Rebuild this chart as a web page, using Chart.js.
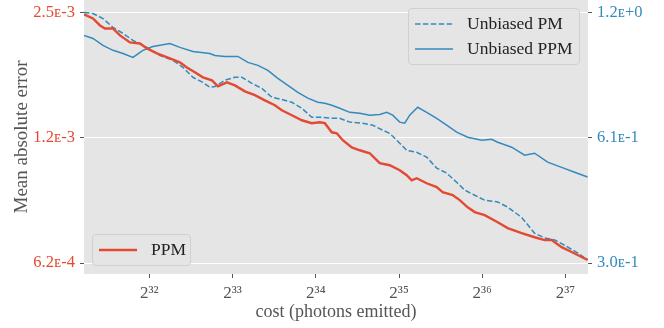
<!DOCTYPE html>
<html>
<head>
<meta charset="utf-8">
<script src="https://cdn.jsdelivr.net/npm/chart.js@4/dist/chart.umd.min.js"></script>
<style>
  body { margin: 0; background: #fff; }
  #wrap { position: relative; width: 664px; height: 328px; }
  .legend { position: absolute; box-sizing: border-box; background: rgba(229,229,229,0.92); border: 1px solid #d0d0d0; border-radius: 4px; font: 17.5px 'Liberation Serif', serif; color: #222; padding-top: 2px; }
  .legend .row { display: flex; align-items: center; height: 25px; }
  .legend svg { margin: 0 14px 0 6px; }
</style>
</head>
<body>
<div id="wrap">
  <canvas id="myChart" width="664" height="328"></canvas>
</div>
<script>
// x values are log2(cost)
const ppmX = [31.215, 31.323, 31.407, 31.467, 31.563, 31.647, 31.767, 31.887, 31.971, 32.091, 32.247, 32.367, 32.451, 32.547, 32.643, 32.752, 32.824, 32.932, 33.028, 33.148, 33.268, 33.388, 33.508, 33.592, 33.712, 33.832, 33.952, 34.048, 34.108, 34.192, 34.252, 34.324, 34.432, 34.528, 34.648, 34.768, 34.888, 35.008, 35.092, 35.152, 35.212, 35.332, 35.452, 35.524, 35.644, 35.729, 35.825, 35.909, 36.029, 36.185, 36.305, 36.473, 36.629, 36.749, 36.833, 36.953, 37.073, 37.193, 37.265]
const ppmErr = [2.453e-3, 2.399e-3, 2.308e-3, 2.270e-3, 2.270e-3, 2.184e-3, 2.101e-3, 2.089e-3, 2.033e-3, 1.977e-3, 1.923e-3, 1.882e-3, 1.830e-3, 1.781e-3, 1.732e-3, 1.704e-3, 1.648e-3, 1.685e-3, 1.657e-3, 1.603e-3, 1.569e-3, 1.525e-3, 1.484e-3, 1.443e-3, 1.404e-3, 1.366e-3, 1.344e-3, 1.351e-3, 1.344e-3, 1.278e-3, 1.271e-3, 1.223e-3, 1.176e-3, 1.157e-3, 1.138e-3, 1.077e-3, 1.065e-3, 1.036e-3, 1.008e-3, 0.980e-3, 0.991e-3, 0.964e-3, 0.944e-3, 0.918e-3, 0.903e-3, 0.878e-3, 0.844e-3, 0.822e-3, 0.808e-3, 0.777e-3, 0.752e-3, 0.732e-3, 0.715e-3, 0.704e-3, 0.704e-3, 0.677e-3, 0.659e-3, 0.641e-3, 0.631e-3]

const pmX = [31.215, 31.323, 31.443, 31.563, 31.683, 31.803, 31.971, 32.127, 32.283, 32.403, 32.523, 32.643, 32.727, 32.788, 32.908, 33.028, 33.112, 33.232, 33.352, 33.472, 33.592, 33.712, 33.832, 33.952, 34.072, 34.192, 34.288, 34.408, 34.564, 34.684, 34.804, 34.888, 35.008, 35.092, 35.212, 35.332, 35.452, 35.572, 35.692, 35.789, 35.909, 36.029, 36.185, 36.305, 36.473, 36.629, 36.749, 36.869, 36.989, 37.145, 37.265]
const pmErr = [1.218, 1.211, 1.178, 1.121, 1.085, 1.044, 1.004, 0.960, 0.935, 0.899, 0.851, 0.827, 0.805, 0.809, 0.837, 0.851, 0.851, 0.823, 0.800, 0.762, 0.753, 0.741, 0.717, 0.682, 0.682, 0.678, 0.678, 0.664, 0.660, 0.653, 0.635, 0.624, 0.591, 0.568, 0.562, 0.547, 0.515, 0.501, 0.476, 0.456, 0.443, 0.431, 0.427, 0.415, 0.392, 0.359, 0.350, 0.346, 0.336, 0.322, 0.310]

const uppmX = [31.215, 31.323, 31.443, 31.563, 31.683, 31.803, 31.923, 32.043, 32.247, 32.367, 32.523, 32.727, 32.788, 32.908, 33.064, 33.184, 33.304, 33.424, 33.544, 33.664, 33.784, 33.904, 34.024, 34.108, 34.192, 34.288, 34.408, 34.528, 34.648, 34.768, 34.852, 34.924, 35.008, 35.068, 35.128, 35.224, 35.332, 35.452, 35.572, 35.692, 35.825, 35.993, 36.113, 36.185, 36.353, 36.509, 36.629, 36.785, 36.953, 37.109, 37.265]
const uppmErr = [1.073, 1.055, 1.015, 0.988, 0.971, 0.950, 0.988, 1.009, 1.026, 1.004, 0.982, 0.971, 0.960, 0.955, 0.955, 0.924, 0.909, 0.884, 0.846, 0.814, 0.783, 0.758, 0.741, 0.737, 0.729, 0.717, 0.701, 0.697, 0.690, 0.693, 0.701, 0.690, 0.664, 0.660, 0.690, 0.721, 0.701, 0.678, 0.653, 0.628, 0.611, 0.601, 0.604, 0.594, 0.578, 0.553, 0.559, 0.532, 0.517, 0.503, 0.490]

const xTicks = [32, 33, 34, 35, 36, 37]
const leftTicks = [6.2e-4, 1.24e-3, 2.48e-3]
const rightTicks = [0.3045, 0.609, 1.218]

const red = '#E24A33'
const blue = '#348ABD'
const sup = { '0': '⁰', '1': '¹', '2': '²', '3': '³', '4': '⁴', '5': '⁵', '6': '⁶', '7': '⁷', '8': '⁸', '9': '⁹' }
const fontFam = "'Liberation Serif', serif"

const pts = (xs, ys) => xs.map((x, i) => ({ x: x, y: ys[i] }))
const sci = v => v.toExponential(1).replace('e', 'ᴇ')

const plotBg = {
  id: 'plotBg',
  beforeDraw(chart) {
    const { ctx, chartArea: a } = chart
    ctx.save()
    ctx.fillStyle = '#E5E5E5'
    ctx.fillRect(a.left, a.top, a.right - a.left, a.bottom - a.top)
    ctx.restore()
  }
}

const ctx = document.getElementById('myChart')

const chart = new Chart(ctx, {
  type: 'line',
  data: {
    datasets: [{
      label: 'PPM',
      data: pts(ppmX, ppmErr),
      yAxisID: 'y',
      borderColor: red,
      borderWidth: 2.4
    }, {
      label: 'Unbiased PM',
      data: pts(pmX, pmErr),
      yAxisID: 'y1',
      borderColor: blue,
      borderWidth: 1.5,
      borderDash: [5.5, 2.4]
    }, {
      label: 'Unbiased PPM',
      data: pts(uppmX, uppmErr),
      yAxisID: 'y1',
      borderColor: blue,
      borderWidth: 1.5
    }]
  },
  options: {
    responsive: false,
    animation: false,
    layout: { padding: 0 },
    elements: { point: { radius: 0 }, line: { tension: 0 } },
    plugins: { legend: { display: false }, tooltip: { enabled: false } },
    scales: {
      x: {
        type: 'linear',
        min: 31.215,
        max: 37.27,
        afterBuildTicks: s => { s.ticks = xTicks.map(v => ({ value: v })) },
        afterFit: s => { s.height = 54; s.paddingLeft = 0; s.paddingRight = 0 },
        ticks: {
          color: '#555',
          padding: 5,
          maxRotation: 0,
          font: { family: fontFam, size: 17 },
          callback: v => '2' + String(v).split('').map(c => sup[c]).join('')
        },
        grid: { drawOnChartArea: false, tickColor: '#555', tickLength: 4 },
        border: { display: false },
        title: {
          display: true,
          text: 'cost (photons emitted)',
          color: '#555',
          font: { family: fontFam, size: 18 },
          padding: { top: 0, bottom: 5 }
        }
      },
      y: {
        type: 'logarithmic',
        position: 'left',
        min: 5.835e-4,
        max: 2.657e-3,
        afterBuildTicks: s => { s.ticks = leftTicks.map(v => ({ value: v })) },
        afterFit: s => { s.width = 84; s.paddingTop = 0; s.paddingBottom = 0 },
        ticks: { color: red, padding: 5, font: { family: fontFam, size: 16.5 }, callback: v => sci(v) },
        grid: { color: '#fff', lineWidth: 1, tickColor: '#555', tickLength: 4 },
        border: { display: false },
        title: {
          display: true,
          text: 'Mean absolute error',
          color: '#555',
          font: { family: fontFam, size: 19 },
          padding: { top: 10.5, bottom: 0 }
        }
      },
      y1: {
        type: 'logarithmic',
        position: 'right',
        min: 0.2866,
        max: 1.305,
        afterBuildTicks: s => { s.ticks = rightTicks.map(v => ({ value: v })) },
        afterFit: s => { s.width = 76; s.paddingTop = 0; s.paddingBottom = 0 },
        ticks: { color: blue, padding: 5, font: { family: fontFam, size: 16.5 }, callback: v => sci(v) },
        grid: { drawOnChartArea: false, tickColor: '#555', tickLength: 4 },
        border: { display: false }
      }
    }
  },
  plugins: [plotBg]
})

// legends as html boxes, built from the datasets
function makeLegend(idxs, left, top, width) {
  const box = document.createElement('div')
  box.className = 'legend'
  box.style.left = left + 'px'
  box.style.top = top + 'px'
  box.style.width = width + 'px'
  box.style.height = (idxs.length * 25 + 7) + 'px'
  idxs.forEach(i => {
    const ds = chart.data.datasets[i]
    const dash = ds.borderDash ? ds.borderDash.join(' ') : 'none'
    const row = document.createElement('div')
    row.className = 'row'
    row.innerHTML = `<svg width="38" height="6"><line x1="0" y1="3" x2="38" y2="3" stroke="${ds.borderColor}" stroke-width="${ds.borderWidth}" stroke-dasharray="${dash}"/></svg><span>${ds.label}</span>`
    box.appendChild(row)
  })
  document.getElementById('wrap').appendChild(box)
}

makeLegend([1, 2], 408, 8, 172)
makeLegend([0], 92, 234, 99)
</script>
</body>
</html>
